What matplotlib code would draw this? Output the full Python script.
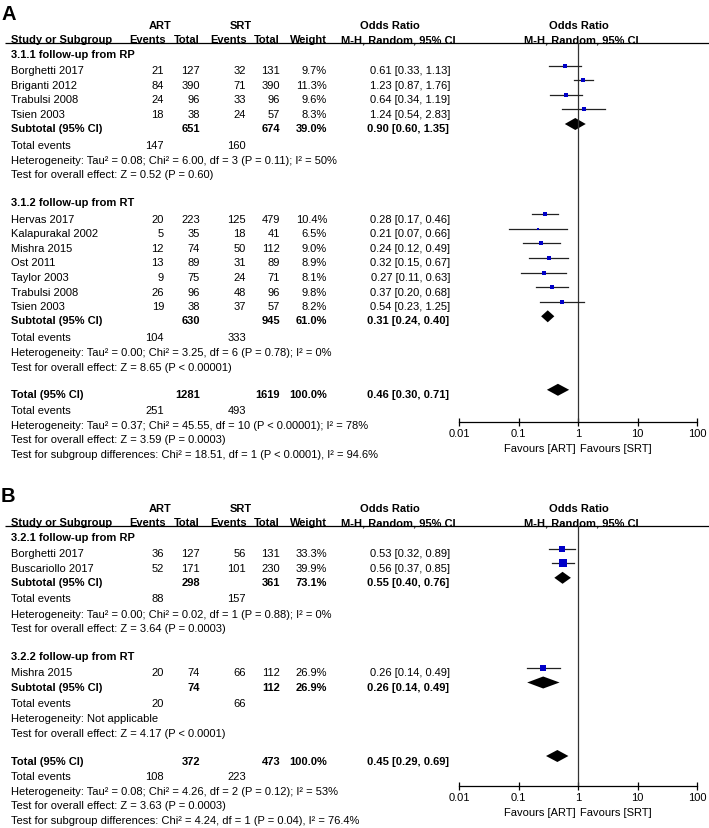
import numpy as np
import matplotlib
matplotlib.use("Agg")
import matplotlib.pyplot as plt

plt.rcParams['font.family'] = ['Liberation Sans', 'DejaVu Sans']

# ---------------- Data: Panel A ----------------
a_sub1_name = "3.1.1 follow-up from RP"
a_sub1_studies = ["Borghetti 2017", "Briganti 2012", "Trabulsi 2008", "Tsien 2003"]
a_sub1_art_events = [21, 84, 24, 18]
a_sub1_art_total = [127, 390, 96, 38]
a_sub1_srt_events = [32, 71, 33, 24]
a_sub1_srt_total = [131, 390, 96, 57]
a_sub1_weight = [9.7, 11.3, 9.6, 8.3]
a_sub1_or = [0.61, 1.23, 0.64, 1.24]
a_sub1_lo = [0.33, 0.87, 0.34, 0.54]
a_sub1_hi = [1.13, 1.76, 1.19, 2.83]
a_sub1_summary = dict(art_total=651, srt_total=674, weight=39.0, or_=0.90, lo=0.60, hi=1.35,
                      art_ev=147, srt_ev=160,
                      het="Heterogeneity: Tau² = 0.08; Chi² = 6.00, df = 3 (P = 0.11); I² = 50%",
                      test="Test for overall effect: Z = 0.52 (P = 0.60)")

a_sub2_name = "3.1.2 follow-up from RT"
a_sub2_studies = ["Hervas 2017", "Kalapurakal 2002", "Mishra 2015", "Ost 2011",
                  "Taylor 2003", "Trabulsi 2008", "Tsien 2003"]
a_sub2_art_events = [20, 5, 12, 13, 9, 26, 19]
a_sub2_art_total = [223, 35, 74, 89, 75, 96, 38]
a_sub2_srt_events = [125, 18, 50, 31, 24, 48, 37]
a_sub2_srt_total = [479, 41, 112, 89, 71, 96, 57]
a_sub2_weight = [10.4, 6.5, 9.0, 8.9, 8.1, 9.8, 8.2]
a_sub2_or = [0.28, 0.21, 0.24, 0.32, 0.27, 0.37, 0.54]
a_sub2_lo = [0.17, 0.07, 0.12, 0.15, 0.11, 0.20, 0.23]
a_sub2_hi = [0.46, 0.66, 0.49, 0.67, 0.63, 0.68, 1.25]
a_sub2_summary = dict(art_total=630, srt_total=945, weight=61.0, or_=0.31, lo=0.24, hi=0.40,
                      art_ev=104, srt_ev=333,
                      het="Heterogeneity: Tau² = 0.00; Chi² = 3.25, df = 6 (P = 0.78); I² = 0%",
                      test="Test for overall effect: Z = 8.65 (P < 0.00001)")

a_total = dict(art_total=1281, srt_total=1619, weight=100.0, or_=0.46, lo=0.30, hi=0.71,
               art_ev=251, srt_ev=493,
               lines=["Heterogeneity: Tau² = 0.37; Chi² = 45.55, df = 10 (P < 0.00001); I² = 78%",
                      "Test for overall effect: Z = 3.59 (P = 0.0003)",
                      "Test for subgroup differences: Chi² = 18.51, df = 1 (P < 0.0001), I² = 94.6%"])

# ---------------- Data: Panel B ----------------
b_sub1_name = "3.2.1 follow-up from RP"
b_sub1_studies = ["Borghetti 2017", "Buscariollo 2017"]
b_sub1_art_events = [36, 52]
b_sub1_art_total = [127, 171]
b_sub1_srt_events = [56, 101]
b_sub1_srt_total = [131, 230]
b_sub1_weight = [33.3, 39.9]
b_sub1_or = [0.53, 0.56]
b_sub1_lo = [0.32, 0.37]
b_sub1_hi = [0.89, 0.85]
b_sub1_summary = dict(art_total=298, srt_total=361, weight=73.1, or_=0.55, lo=0.40, hi=0.76,
                      art_ev=88, srt_ev=157,
                      het="Heterogeneity: Tau² = 0.00; Chi² = 0.02, df = 1 (P = 0.88); I² = 0%",
                      test="Test for overall effect: Z = 3.64 (P = 0.0003)")

b_sub2_name = "3.2.2 follow-up from RT"
b_sub2_studies = ["Mishra 2015"]
b_sub2_art_events = [20]
b_sub2_art_total = [74]
b_sub2_srt_events = [66]
b_sub2_srt_total = [112]
b_sub2_weight = [26.9]
b_sub2_or = [0.26]
b_sub2_lo = [0.14]
b_sub2_hi = [0.49]
b_sub2_summary = dict(art_total=74, srt_total=112, weight=26.9, or_=0.26, lo=0.14, hi=0.49,
                      art_ev=20, srt_ev=66,
                      het="Heterogeneity: Not applicable",
                      test="Test for overall effect: Z = 4.17 (P < 0.0001)")

b_total = dict(art_total=372, srt_total=473, weight=100.0, or_=0.45, lo=0.29, hi=0.69,
               art_ev=108, srt_ev=223,
               lines=["Heterogeneity: Tau² = 0.08; Chi² = 4.26, df = 2 (P = 0.12); I² = 53%",
                      "Test for overall effect: Z = 3.63 (P = 0.0003)",
                      "Test for subgroup differences: Chi² = 4.24, df = 1 (P = 0.04), I² = 76.4%"])

axis_ticks = [0.01, 0.1, 1, 10, 100]
axis_ticklabels = ["0.01", "0.1", "1", "10", "100"]

# ---------------- Layout ----------------
W, H = 709, 829
fig = plt.figure(figsize=(W / 100, H / 100), dpi=100)
tx = fig.add_axes([0, 0, 1, 1])
tx.set_xlim(0, W)
tx.set_ylim(H, 0)
tx.axis('off')

FS = 8.05
ROW = 14.6
X_NAME = 11
X_AEV, X_ATOT, X_SEV, X_STOT, X_W, X_CI = 164, 200, 246, 280, 327, 450
PX0, PX1 = 459, 697   # pixel x of 0.01 and 100
MARK_COL = '#0000C8'
LINE_COL = '#222222'


def t(x, y, s, ha='left', bold=False, fs=FS):
    tx.text(x, y, s, ha=ha, va='center_baseline', fontsize=fs,
            fontweight='bold' if bold else 'normal', color='black')


def fmt_ci(o, l, h):
    return f"{o:.2f} [{l:.2f}, {h:.2f}]"


def panel(letter, y0, sub_list, total, y_axis):
    # y0: y of the header underline
    t(1, y0 - 32, letter, bold=True, fs=14.5)
    t(160, y0 - 19, "ART", ha='center', bold=True)
    t(241, y0 - 19, "SRT", ha='center', bold=True)
    t(390, y0 - 19, "Odds Ratio", ha='center', bold=True)
    t(579, y0 - 19, "Odds Ratio", ha='center', bold=True)
    hy = y0 - 5
    t(X_NAME, hy, "Study or Subgroup", bold=True)
    t(166, hy, "Events", ha='right', bold=True)
    t(X_ATOT, hy, "Total", ha='right', bold=True)
    t(247, hy, "Events", ha='right', bold=True)
    t(X_STOT, hy, "Total", ha='right', bold=True)
    t(X_W, hy, "Weight", ha='right', bold=True)
    t(398, hy, "M-H, Random, 95% CI", ha='center', bold=True)
    t(581, hy, "M-H, Random, 95% CI", ha='center', bold=True)
    tx.plot([5, W], [y0, y0], color='black', lw=0.9, solid_capstyle='butt')

    # forest axes
    fax = fig.add_axes([PX0 / W, 1 - y_axis / H, (PX1 - PX0) / W, (y_axis - y0) / H])
    fax.set_xscale('log')
    fax.set_xlim(0.01, 100)
    fax.set_ylim(y_axis, y0)
    fax.patch.set_alpha(0)
    for s in ['top', 'left', 'right']:
        fax.spines[s].set_visible(False)
    fax.spines['bottom'].set_linewidth(0.9)
    fax.set_xticks(axis_ticks)
    fax.set_xticklabels(axis_ticklabels)
    fax.minorticks_off()
    fax.tick_params(axis='x', direction='inout', length=6, width=0.9, labelsize=FS, pad=1.5)
    fax.set_yticks([])
    fax.axvline(1, color='#333333', lw=0.9)
    fax.text(0.93, y_axis + 25, "Favours [ART]", ha='right', va='center_baseline', fontsize=FS)
    fax.text(1.08, y_axis + 25, "Favours [SRT]", ha='left', va='center_baseline', fontsize=FS)

    def diamond(y, o, l, h):
        fax.fill([l, o, h, o], [y, y - 6, y, y + 6], color='black', lw=0)

    y = y0 + 10
    for k, sub in enumerate(sub_list):
        name, studies, aev, atot, sev, stot, wts, ors, los, his, sm = sub
        t(X_NAME, y, name, bold=True)
        y += ROW + 1.5
        for i in range(len(studies)):
            t(X_NAME, y, studies[i])
            t(X_AEV, y, str(aev[i]), ha='right')
            t(X_ATOT, y, str(atot[i]), ha='right')
            t(X_SEV, y, str(sev[i]), ha='right')
            t(X_STOT, y, str(stot[i]), ha='right')
            t(X_W, y, f"{wts[i]:.1f}%", ha='right')
            t(X_CI, y, fmt_ci(ors[i], los[i], his[i]), ha='right')
            fy = y - 3.5
            fax.plot([los[i], his[i]], [fy, fy], color=LINE_COL, lw=0.9)
            fax.plot([ors[i]], [fy], marker='s', ms=np.sqrt(wts[i]) * 0.8,
                     color=MARK_COL, mew=0, lw=0)
            y += ROW
        y -= 0.5
        t(X_NAME, y, "Subtotal (95% CI)", bold=True)
        t(X_ATOT, y, str(sm['art_total']), ha='right', bold=True)
        t(X_STOT, y, str(sm['srt_total']), ha='right', bold=True)
        t(X_W, y, f"{sm['weight']:.1f}%", ha='right', bold=True)
        t(X_CI - 1, y, fmt_ci(sm['or_'], sm['lo'], sm['hi']), ha='right', bold=True)
        diamond(y - 3, sm['or_'], sm['lo'], sm['hi'])
        y += ROW + 2
        t(X_NAME, y, "Total events")
        t(X_AEV, y, str(sm['art_ev']), ha='right')
        t(X_SEV, y, str(sm['srt_ev']), ha='right')
        y += ROW + 0.5
        t(X_NAME, y, sm['het'])
        y += ROW
        t(X_NAME, y, sm['test'])
        y += ROW * 2 - 1
    y -= 0.5
    t(X_NAME, y, "Total (95% CI)", bold=True)
    t(X_ATOT, y, str(total['art_total']), ha='right', bold=True)
    t(X_STOT, y, str(total['srt_total']), ha='right', bold=True)
    t(X_W, y, f"{total['weight']:.1f}%", ha='right', bold=True)
    t(X_CI - 1, y, fmt_ci(total['or_'], total['lo'], total['hi']), ha='right', bold=True)
    diamond(y - 3.5, total['or_'], total['lo'], total['hi'])
    y += ROW + 1
    t(X_NAME, y, "Total events")
    t(X_AEV, y, str(total['art_ev']), ha='right')
    t(X_SEV, y, str(total['srt_ev']), ha='right')
    for line in total['lines']:
        y += ROW
        t(X_NAME, y, line)


panel("A", 44,
      [(a_sub1_name, a_sub1_studies, a_sub1_art_events, a_sub1_art_total, a_sub1_srt_events,
        a_sub1_srt_total, a_sub1_weight, a_sub1_or, a_sub1_lo, a_sub1_hi, a_sub1_summary),
       (a_sub2_name, a_sub2_studies, a_sub2_art_events, a_sub2_art_total, a_sub2_srt_events,
        a_sub2_srt_total, a_sub2_weight, a_sub2_or, a_sub2_lo, a_sub2_hi, a_sub2_summary)],
      a_total, 423)

panel("B", 527,
      [(b_sub1_name, b_sub1_studies, b_sub1_art_events, b_sub1_art_total, b_sub1_srt_events,
        b_sub1_srt_total, b_sub1_weight, b_sub1_or, b_sub1_lo, b_sub1_hi, b_sub1_summary),
       (b_sub2_name, b_sub2_studies, b_sub2_art_events, b_sub2_art_total, b_sub2_srt_events,
        b_sub2_srt_total, b_sub2_weight, b_sub2_or, b_sub2_lo, b_sub2_hi, b_sub2_summary)],
      b_total, 787)

fig.savefig("out.png", dpi=100)
